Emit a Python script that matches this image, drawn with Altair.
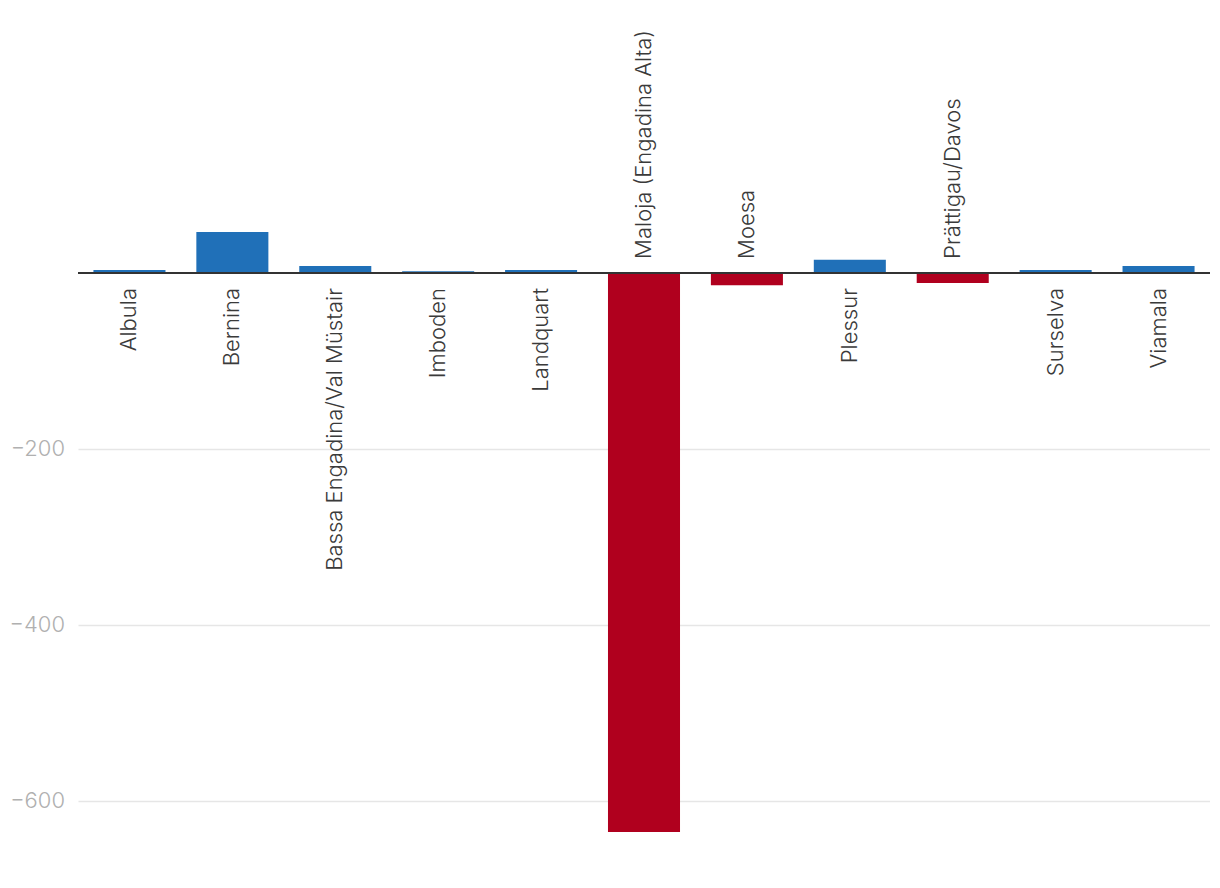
import altair as alt
import pandas as pd

regions = ["Albula", "Bernina", "Bassa Engadina/Val Müstair", "Imboden", "Landquart",
           "Maloja (Engadina Alta)", "Moesa", "Plessur", "Prättigau/Davos", "Surselva", "Viamala"]
values = [3.5, 46.5, 8, 2, 3.5, -635, -14, 15, -11.5, 3.5, 8]
tick_values = [-200, -400, -600]

df = pd.DataFrame({"region": regions, "value": values})
ticks = pd.DataFrame({"t": tick_values})

FONT = "Inter"
FS = 22
x_enc = alt.X("region:N", sort=regions, axis=None,
              scale=alt.Scale(paddingInner=0.3, paddingOuter=0.15))
y_scale = alt.Scale(domain=[-635, 301], nice=False, zero=False)

bars = alt.Chart(df).mark_bar().encode(
    x=x_enc,
    y=alt.Y("value:Q", scale=y_scale,
            axis=alt.Axis(values=tick_values, title=None, domain=False, ticks=False,
                          grid=True, gridColor="#e6e6e6", gridWidth=1.5, labels=False)),
    y2=alt.datum(0),
    color=alt.condition("datum.value >= 0", alt.value("#2070b8"), alt.value("#b0001e")),
)

zero = alt.Chart(pd.DataFrame({"z": [0]})).mark_rule(color="#333333", strokeWidth=2).encode(
    y=alt.Y("z:Q", scale=y_scale)
)

ylabels = alt.Chart(ticks).transform_calculate(
    lab="'\u2212' + format(abs(datum.t), 'd')"
).mark_text(align="right", baseline="middle", font=FONT, fontSize=FS,
            fontWeight=300, color="#b0b0b0").encode(
    x=alt.value(-13), y=alt.Y("t:Q", scale=y_scale), text="lab:N"
)

pos_labels = alt.Chart(df).transform_filter("datum.value >= 0").transform_calculate(
    ly="-17"
).mark_text(angle=270, align="right", baseline="middle", font=FONT, fontSize=FS,
            fontWeight=300, color="#3a3a3a").encode(
    x=x_enc, y=alt.Y("ly:Q", scale=y_scale), text="region:N"
)

neg_labels = alt.Chart(df).transform_filter("datum.value < 0").transform_calculate(
    ly="16"
).mark_text(angle=270, align="left", baseline="middle", font=FONT, fontSize=FS,
            fontWeight=300, color="#3a3a3a").encode(
    x=x_enc, y=alt.Y("ly:Q", scale=y_scale), text="region:N"
)

chart = alt.layer(bars, zero, ylabels, pos_labels, neg_labels).properties(
    width=1132, height=824,
    autosize=alt.AutoSizeParams(type="none"),
    padding={"left": 70, "top": 0, "right": 0, "bottom": 0},
).configure_view(stroke=None)

chart.save("out.html", embed_options={"renderer": "svg", "actions": False})
